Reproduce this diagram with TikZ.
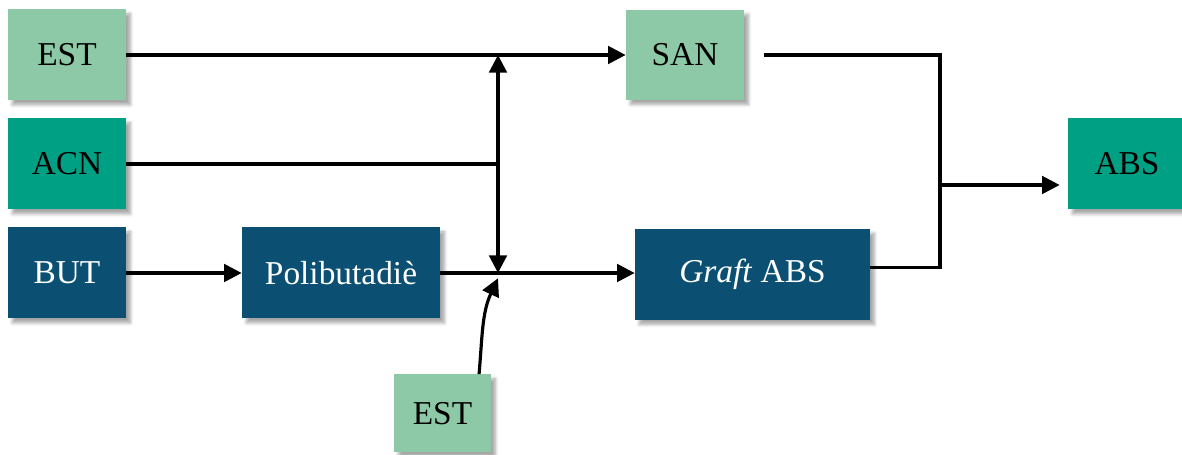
\documentclass[tikz,border=0pt]{standalone}
\usepackage{fontspec}
\setmainfont{Liberation Serif}
\usetikzlibrary{arrows.meta,shadows.blur}

\definecolor{estgreen}{RGB}{141,201,166}
\definecolor{acnteal}{RGB}{0,160,133}
\definecolor{butblue}{RGB}{11,80,114}

\begin{document}
\begin{tikzpicture}[
		box/.style = {minimum width = 2.36cm, minimum height = 1.82cm, inner sep = 0pt,
				font = \fontsize{19}{23}\selectfont,
				blur shadow = {shadow xshift = 2.5pt, shadow yshift = -2.5pt, shadow opacity = 35, shadow blur steps = 6}},
		lightbox/.style = {box, fill = estgreen, text = black},
		tealbox/.style = {box, fill = acnteal, text = black},
		bluebox/.style = {box, fill = butblue, text = white},
		flow/.style = {line width = 1.8pt, -{Triangle[length = 10pt, width = 10pt]}},
		line/.style = {line width = 1.8pt}
	]
	\useasboundingbox (0,0) rectangle (23.64,9.1);

	% inputs
	\node [lightbox] (est)  at (1.34,8.0)  {EST};
	\node [tealbox]  (acn)  at (1.34,5.82) {ACN};
	\node [bluebox]  (but)  at (1.34,3.64) {BUT};
	\node [bluebox, minimum width = 3.96cm] (pbd) at (6.82,3.64) {Polibutadiè};
	\node [lightbox, minimum width = 1.94cm, minimum height = 1.56cm] (est2) at (8.85,0.83) {EST};

	% products
	\node [lightbox, minimum height = 1.8cm] (san) at (13.7,8.0) {SAN};
	\node [bluebox, minimum width = 4.7cm] (graft) at (15.05,3.61) {\textit{Graft} ABS};
	\node [tealbox] (abs) at (22.54,5.82) {ABS};

	\coordinate (split) at (9.96,5.82);
	\coordinate (mix) at (18.8,5.4);

	\draw [flow] (est) -- (san);
	\draw [line] (acn) -- (split);
	\draw [flow] (split) -- (split |- est);
	\draw [flow] (split) -- (split |- but);
	\draw [flow] (but) -- (pbd);
	\draw [flow] (pbd) -- (pbd -| graft.west);
	\draw [flow] ([xshift = -7pt]est2.north east) to [out = 85, in = -115] ([yshift = -3pt]split |- pbd);

	\draw [line, shorten < = 0.4cm] (san) -| (mix) |- ([yshift = 4pt]graft.east);
	\draw [flow, shorten > = 0.16cm] (mix) -- (abs.west |- mix);
\end{tikzpicture}
\end{document}
